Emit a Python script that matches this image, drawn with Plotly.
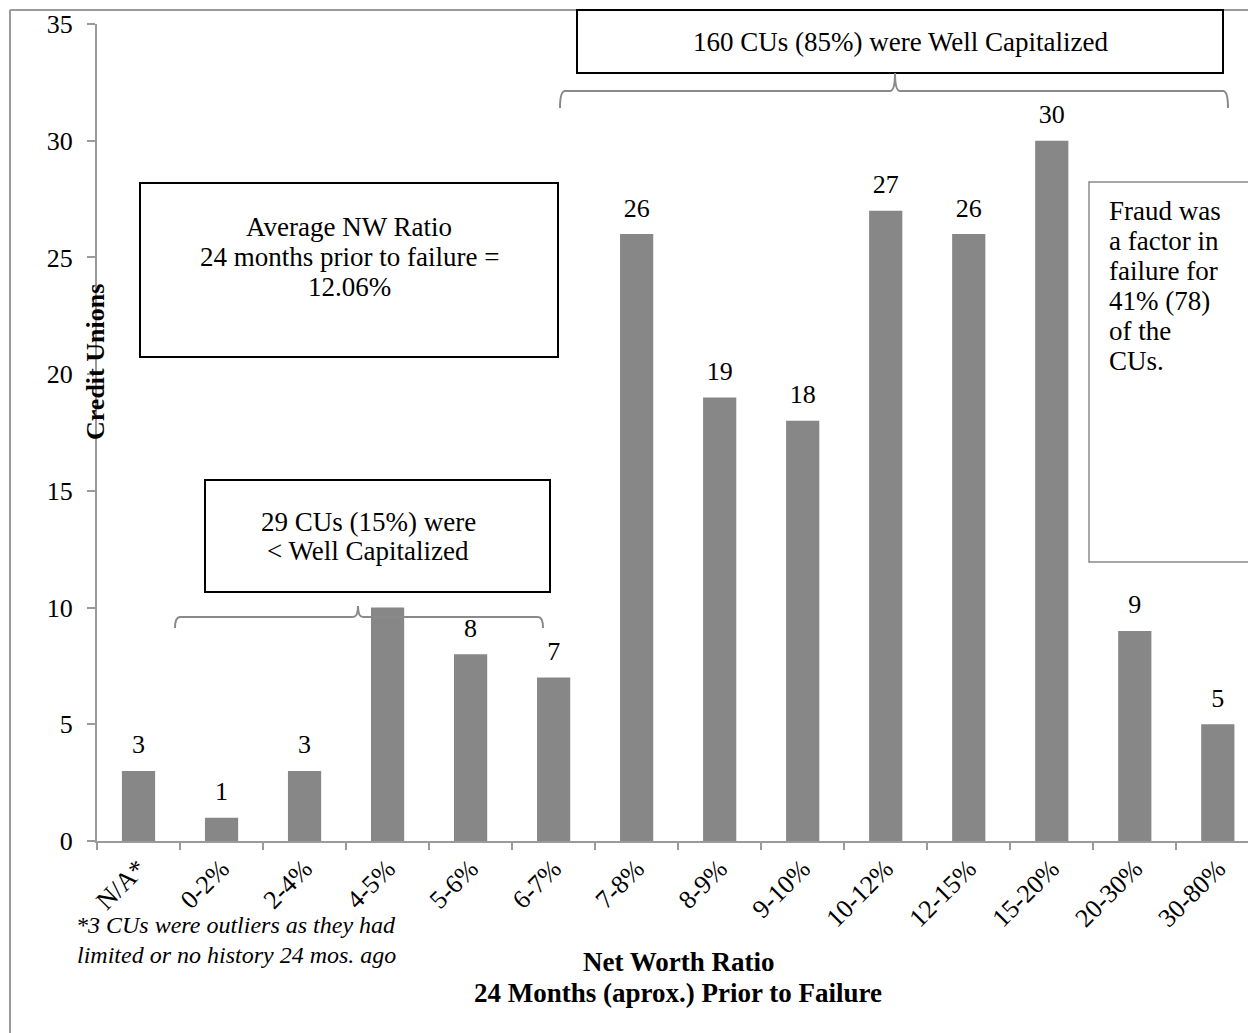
import plotly.graph_objects as go

# ---------------- data ----------------
categories = ["N/A*", "0-2%", "2-4%", "4-5%", "5-6%", "6-7%", "7-8%", "8-9%",
              "9-10%", "10-12%", "12-15%", "15-20%", "20-30%", "30-80%"]
credit_unions = [3, 1, 3, 10, 8, 7, 26, 19, 18, 27, 26, 30, 9, 5]
y_ticks = [0, 5, 10, 15, 20, 25, 30, 35]

SERIF = "Liberation Serif, Times New Roman, serif"
OFF = 8                     # page body margin
W, H = 1256 - OFF, 1033 - OFF
# plot area in screen pixels
L, R, T, B = 97, 1256, 24, 841


def px(x):
    return (x - L) / (R - L)


def py(y):
    return (B - y) / (B - T)


fig = go.Figure()

fig.add_trace(go.Bar(
    x=categories, y=credit_unions, width=0.4,
    marker=dict(color="#878787", line=dict(width=0)),
    hoverinfo="skip", showlegend=False,
))
# value labels (drawn as a trace so that the boxes may cover them)
fig.add_trace(go.Scatter(
    x=categories, y=credit_unions, mode="markers+text",
    text=[str(v) for v in credit_unions], textposition="top center",
    textfont=dict(family=SERIF, size=26, color="black"),
    marker=dict(size=16, opacity=0),
    hoverinfo="skip", showlegend=False, cliponaxis=False,
))

shapes = []
# outer frame
shapes.append(dict(type="line", xref="paper", yref="paper",
                   x0=px(10), y0=py(1040), x1=px(10), y1=py(10),
                   line=dict(color="#9a9a9a", width=2)))
shapes.append(dict(type="line", xref="paper", yref="paper",
                   x0=px(10), y0=py(10), x1=px(1260), y1=py(10),
                   line=dict(color="#9a9a9a", width=2)))


def box(x0, y0, x1, y1, color="black", width=2):
    shapes.append(dict(type="rect", xref="paper", yref="paper", layer="above",
                       x0=px(x0), y0=py(y1), x1=px(x1), y1=py(y0),
                       fillcolor="white", line=dict(color=color, width=width)))


box(140, 183, 558, 357)
box(205, 480, 550, 592)
box(577, 10, 1223, 73)
box(1089, 182, 1250, 562, color="#8a8a8a", width=1.5)


def bracket(xl, xr, xc, yh, yend, ytip, r=5):
    pts = (f"M {px(xl)},{py(yend)} Q {px(xl)},{py(yh)} {px(xl + r)},{py(yh)} "
           f"L {px(xc - r)},{py(yh)} Q {px(xc)},{py(yh)} {px(xc)},{py(ytip)} "
           f"Q {px(xc)},{py(yh)} {px(xc + r)},{py(yh)} "
           f"L {px(xr - r)},{py(yh)} Q {px(xr)},{py(yh)} {px(xr)},{py(yend)}")
    shapes.append(dict(type="path", xref="paper", yref="paper", layer="above",
                       path=pts, line=dict(color="#8a8a8a", width=2)))


bracket(175, 543, 358, 617, 628, 606)
bracket(560, 1228, 895, 91, 108, 73)

annotations = []


def note(x, y, text, size=27, xanchor="center", angle=0, italic=False, bold=False):
    if bold:
        text = "<b>" + text + "</b>"
    if italic:
        text = "<i>" + text + "</i>"
    annotations.append(dict(xref="paper", yref="paper", x=px(x), y=py(y),
                            text=text, showarrow=False,
                            xanchor=xanchor, yanchor="middle", textangle=angle,
                            font=dict(family=SERIF, size=size, color="black")))


def lines(x, y0, step, texts, **kw):
    for i, t in enumerate(texts):
        note(x, y0 + i * step, t, **kw)


lines(349, 227, 30, ["Average NW Ratio", "24 months prior to failure =", "12.06%"])
lines(368, 522, 29, ["29 CUs (15%) were", "&lt; Well Capitalized"])
note(900, 42, "160 CUs (85%) were Well Capitalized")
lines(1107, 211, 30, ["Fraud was", "a factor in", "failure for", "41% (78)",
                      "of the", "CUs."], xanchor="left")
note(96, 362, "Credit Unions", size=26, angle=-90, bold=True)
lines(678, 962, 31, ["Net Worth Ratio", "24 Months (aprox.) Prior to Failure"],
      size=27, bold=True)
lines(236, 925, 30, ["*3 CUs were outliers as they had",
                     "limited or no history 24 mos. ago"], size=24, italic=True)

fig.update_layout(
    width=W, height=H,
    margin=dict(l=L - OFF, r=W - (R - OFF), t=T - OFF, b=H - (B - OFF), pad=0),
    paper_bgcolor="white", plot_bgcolor="white",
    shapes=shapes, annotations=annotations,
    xaxis=dict(
        type="category", range=[-0.5, 13.46], tickangle=-45,
        tickfont=dict(family=SERIF, size=26, color="black"),
        showline=True, linecolor="#9a9a9a", linewidth=2,
        ticks="outside", tickson="boundaries", ticklen=7, tickcolor="#9a9a9a",
        tickwidth=2, showgrid=False, zeroline=False,
    ),
    yaxis=dict(
        range=[0, 35], tickvals=y_ticks,
        tickfont=dict(family=SERIF, size=26, color="black"),
        showline=True, linecolor="#9a9a9a", linewidth=2,
        ticks="outside", ticklen=8, tickcolor="#9a9a9a", tickwidth=2,
        ticklabelstandoff=9, showgrid=False, zeroline=False,
    ),
)

fig.write_html("out.html")
